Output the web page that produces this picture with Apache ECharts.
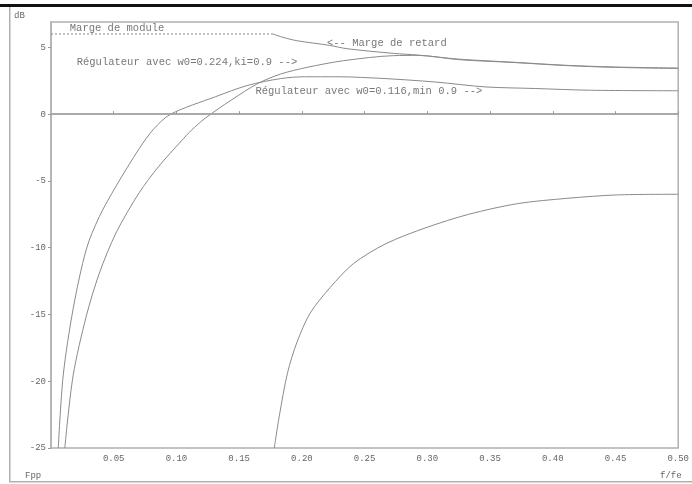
<!DOCTYPE html>
<html>
<head>
<meta charset="utf-8">
<script src="https://cdn.jsdelivr.net/npm/echarts@6/dist/echarts.min.js"></script>
<style>
html,body{margin:0;padding:0;background:#fff;}
#c{width:692px;height:484px;}
</style>
</head>
<body>
<div id="c"></div>
<script>
// x ticks (f/fe) and y ticks (dB)
const xTicks = [0.05, 0.10, 0.15, 0.20, 0.25, 0.30, 0.35, 0.40, 0.45, 0.5];
const yTicks = [5, 0, -5, -10, -15, -20, -25];

// Marge de module (dotted, 6 dB)
const margeModule = [[0, 6.0], [0.177, 6.0]];
// Marge de retard
const margeRetard = [[0.177, 6.0], [0.185, 5.75], [0.196, 5.5], [0.222, 5.15], [0.236, 4.9], [0.273, 4.55], [0.293, 4.42], [0.325, 4.12], [0.37, 3.88], [0.41, 3.66], [0.45, 3.53], [0.5, 3.45]];
// Régulateur avec w0=0.224, ki=0.9
const reg224 = [[0.011, -25], [0.0176, -19.6], [0.0282, -15.1], [0.0386, -11.9], [0.0518, -8.9], [0.0702, -5.9], [0.086, -3.9], [0.104, -2.0], [0.112, -1.2], [0.123, -0.3], [0.1435, 1.04], [0.165, 2.3], [0.183, 3.0], [0.204, 3.5], [0.233, 4.0], [0.273, 4.38], [0.293, 4.4], [0.325, 4.08], [0.37, 3.86], [0.41, 3.64], [0.45, 3.5], [0.5, 3.42]];
// Régulateur avec w0=0.116, min 0.9
const reg116 = [[0.0058, -25], [0.0097, -19.6], [0.0176, -14.6], [0.0282, -10.1], [0.0386, -7.66], [0.0518, -5.4], [0.0702, -2.6], [0.082, -1.1], [0.0954, 0], [0.131, 1.3], [0.157, 2.16], [0.183, 2.66], [0.202, 2.8], [0.228, 2.8], [0.267, 2.66], [0.307, 2.4], [0.346, 2.04], [0.386, 1.92], [0.43, 1.79], [0.5, 1.75]];
// Lower curve
const lowerCurve = [[0.178, -25], [0.182, -22.6], [0.1885, -19.4], [0.196, -17.1], [0.2066, -14.9], [0.2224, -13.0], [0.241, -11.2], [0.267, -9.7], [0.299, -8.5], [0.333, -7.5], [0.372, -6.7], [0.412, -6.3], [0.451, -6.05], [0.5, -6.0]];

// annotations: [text, f, dB]
const notes = [
  ["Marge de module", 0.015, 6.42],
  ["Régulateur avec w0=0.224,ki=0.9 -->", 0.0205, 3.88],
  ["<-- Marge de retard", 0.220, 5.3],
  ["Régulateur avec w0=0.116,min 0.9 -->", 0.163, 1.72]
];

const FONT = "'Liberation Mono','DejaVu Sans Mono',monospace";
const LINE = '#8a8a8a';
const TXT = '#666';

const chart = echarts.init(document.getElementById('c'), null, {renderer: 'canvas'});

function lineSeries(name, data, type) {
  return {
    name: name, type: 'line', data: data, showSymbol: false, symbol: 'none',
    smooth: 0.3, animation: false,
    lineStyle: {color: LINE, width: 1, type: type || 'solid'},
    clip: true
  };
}

const option = {
  backgroundColor: '#fff',
  animation: false,
  grid: {left: 51, right: 7, top: 22, bottom: 36, show: true, borderColor: '#b0b0b0', borderWidth: 1.5, backgroundColor: '#fff'},
  xAxis: {
    type: 'value', min: 0, max: 0.5, interval: 0.05,
    axisLine: {show: true, lineStyle: {color: '#b0b0b0', width: 1.5}},
    axisTick: {show: true, inside: true, length: 3, lineStyle: {color: '#999'}},
    splitLine: {show: false},
    axisLabel: {
      showMinLabel: false, color: TXT, fontFamily: FONT, fontSize: 9, margin: 6,
      formatter: function (v) {
        const t = xTicks.find(function (k) { return Math.abs(k - v) < 1e-6; });
        if (t === undefined) return '';
        return t === 0.5 ? '0.50' : t.toFixed(2);
      }
    }
  },
  yAxis: {
    type: 'value', min: -25, max: 6.9, interval: 5,
    axisLine: {show: true, lineStyle: {color: '#b0b0b0', width: 1.5}},
    axisTick: {show: true, inside: false, length: 3, lineStyle: {color: '#999'}},
    splitLine: {show: false},
    axisLabel: {
      showMaxLabel: false, color: TXT, fontFamily: FONT, fontSize: 9, margin: 5,
      formatter: function (v) {
        const t = yTicks.find(function (k) { return Math.abs(k - v) < 1e-6; });
        return t === undefined ? '' : String(t);
      }
    }
  },
  graphic: [
    {type: 'rect', shape: {x: 0, y: 4, width: 692, height: 3}, style: {fill: '#111'}, silent: true},
    {type: 'rect', shape: {x: 9, y: 7, width: 1.5, height: 475}, style: {fill: '#b0b0b0'}, silent: true},
    {type: 'rect', shape: {x: 9, y: 481, width: 683, height: 1.5}, style: {fill: '#b0b0b0'}, silent: true},
    {type: 'text', left: 14, top: 11, style: {text: 'dB', fill: TXT, font: '9px ' + FONT}},
    {type: 'text', left: 25, top: 471, style: {text: 'Fpp', fill: TXT, font: '9px ' + FONT}},
    {type: 'text', left: 660, top: 471, style: {text: 'f/fe', fill: TXT, font: '9px ' + FONT}}
  ],
  series: [
    Object.assign(lineSeries('Marge de module', margeModule, [2, 2]), {
      smooth: false,
      markLine: {
        silent: true, symbol: 'none', animation: false,
        label: {show: false},
        lineStyle: {color: '#a0a0a0', width: 1.5, type: 'solid'},
        data: [{yAxis: 0}]
      }
    }),
    lineSeries('Marge de retard', margeRetard),
    lineSeries('Régulateur w0=0.224', reg224),
    lineSeries('Régulateur w0=0.116', reg116),
    lineSeries('Courbe basse', lowerCurve),
    {
      name: 'notes', type: 'scatter', symbolSize: 0, animation: false, silent: true,
      data: notes.map(function (n) { return {value: [n[1], n[2]], label: {formatter: n[0]}}; }),
      label: {show: true, position: 'right', distance: 0, color: '#555', fontFamily: FONT, fontSize: 10.5}
    }
  ]
};
chart.setOption(option);
</script>
</body>
</html>
